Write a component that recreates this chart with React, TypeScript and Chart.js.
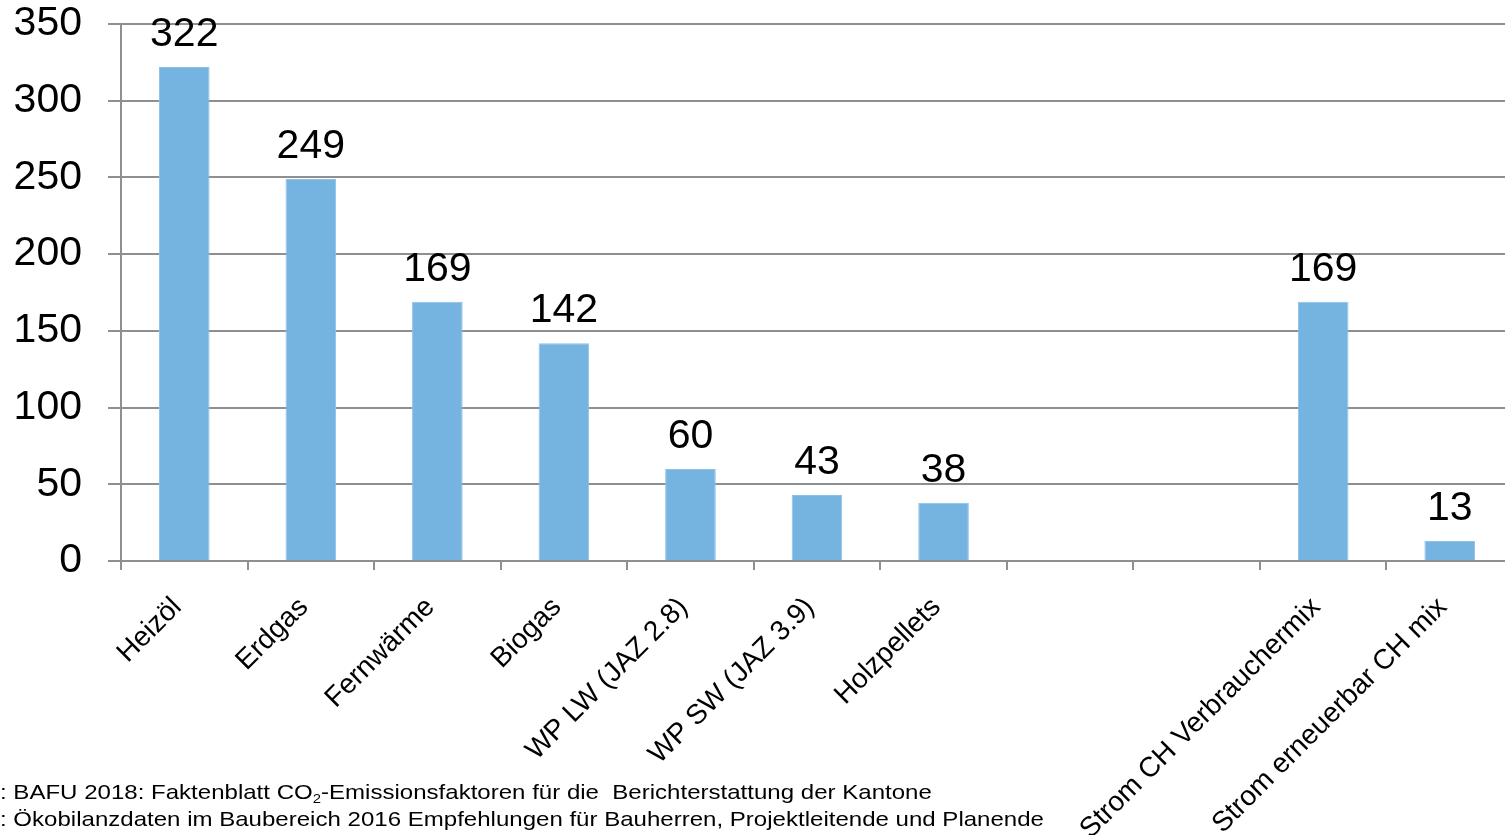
import React, { useEffect, useRef } from "react";
import { Chart, registerables } from "chart.js";

Chart.register(...registerables);

const categories = [
  "Heizöl",
  "Erdgas",
  "Fernwärme",
  "Biogas",
  "WP LW (JAZ 2.8)",
  "WP SW (JAZ 3.9)",
  "Holzpellets",
  "",
  "",
  "Strom CH Verbrauchermix",
  "Strom erneuerbar CH mix",
];
const values: (number | null)[] = [322, 249, 169, 142, 60, 43, 38, null, null, 169, 13];
const yTicks = [0, 50, 100, 150, 200, 250, 300, 350];
const footnote1Before = ": BAFU 2018: Faktenblatt CO";
const footnote1After = "-Emissionsfaktoren für die  Berichterstattung der Kantone";
const footnote2 = ": Ökobilanzdaten im Baubereich 2016 Empfehlungen für Bauherren, Projektleitende und Planende";

const FONT = "'Liberation Sans', Arial, sans-serif";
const GRID = "#8f8f8f";

const valueLabels = {
  id: "valueLabels",
  afterDatasetsDraw(chart: any) {
    const ctx = chart.ctx;
    const meta = chart.getDatasetMeta(0);
    ctx.save();
    ctx.font = `41px ${FONT}`;
    ctx.fillStyle = "#000";
    ctx.textAlign = "center";
    ctx.textBaseline = "alphabetic";
    meta.data.forEach((bar: any, i: number) => {
      const v = values[i];
      if (v === null || v === undefined) return;
      ctx.fillText(String(v), bar.x, bar.y - 21);
    });
    ctx.restore();
  },
};

function zeroPad(scale: any) {
  scale.paddingTop = 0;
  scale.paddingBottom = 0;
  scale.paddingLeft = 0;
  scale.paddingRight = 0;
}

export default function App() {
  const ref = useRef<HTMLCanvasElement | null>(null);
  useEffect(() => {
    if (!ref.current) return;
    const chart = new Chart(ref.current, {
      type: "bar",
      data: {
        labels: categories,
        datasets: [
          {
            data: values,
            backgroundColor: "#75b3e0",
            borderColor: "#8cc2e8",
            borderWidth: 1,
            barPercentage: 0.4,
            categoryPercentage: 1,
          },
        ],
      },
      options: {
        animation: false,
        responsive: false,
        devicePixelRatio: 1,
        layout: { padding: { top: 24, right: 7, left: 0, bottom: 0 } },
        plugins: { legend: { display: false }, tooltip: { enabled: false } },
        scales: {
          x: {
            offset: true,
            grid: {
              offset: true,
              drawOnChartArea: false,
              drawTicks: true,
              tickLength: 9,
              color: GRID,
              lineWidth: 2,
            },
            border: { display: true, color: GRID, width: 2 },
            ticks: {
              autoSkip: false,
              maxRotation: 45,
              minRotation: 45,
              color: "#000",
              font: { family: FONT, size: 28 },
              padding: 21,
              labelOffset: -7,
            },
            afterFit(scale: any) {
              scale.height = 274;
              zeroPad(scale);
            },
          },
          y: {
            min: 0,
            max: 350,
            afterBuildTicks(scale: any) {
              scale.ticks = yTicks.map((v) => ({ value: v }));
            },
            grid: { color: GRID, lineWidth: 2, tickLength: 13, drawTicks: true },
            border: { display: true, color: GRID, width: 2 },
            ticks: {
              color: "#000",
              font: { family: FONT, size: 41 },
              padding: 26,
            },
            afterFit(scale: any) {
              scale.width = 121;
              zeroPad(scale);
            },
          },
        },
      },
      plugins: [valueLabels],
    });
    return () => chart.destroy();
  }, []);

  return (
    <div
      style={{
        position: "fixed",
        left: 0,
        top: 0,
        width: 1520,
        height: 835,
        overflow: "hidden",
        background: "#fff",
      }}
    >
      <canvas ref={ref} width={1520} height={835} style={{ display: "block" }} />
      <div
        style={{
          position: "absolute",
          left: 0,
          top: 778,
          fontFamily: FONT,
          fontSize: 21,
          lineHeight: "27px",
          color: "#000",
          whiteSpace: "pre",
          transform: "scaleX(1.145)",
          transformOrigin: "0 0",
        }}
      >
        <div>
          {footnote1Before}
          <sub style={{ fontSize: 13, verticalAlign: "-4px", lineHeight: 0 }}>2</sub>
          {footnote1After}
        </div>
        <div>{footnote2}</div>
      </div>
    </div>
  );
}
